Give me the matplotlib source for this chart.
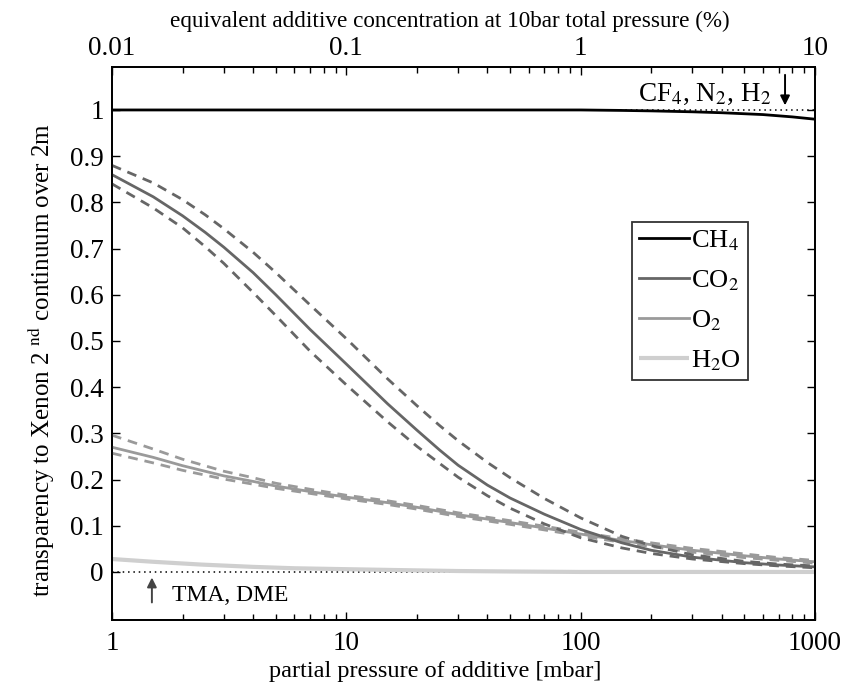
import matplotlib
matplotlib.use("Agg")
import matplotlib.pyplot as plt
from matplotlib.ticker import LogLocator, NullFormatter, FixedLocator, FixedFormatter

plt.rcParams['font.family'] = ['Liberation Serif', 'DejaVu Serif']
plt.rcParams['mathtext.fontset'] = 'stix'

# ---------------- data ----------------
ch4_x = [1, 10, 100, 150, 200, 300, 400, 600, 800, 1000]
ch4_y = [1.0, 1.0, 1.0, 0.999, 0.998, 0.996, 0.994, 0.99, 0.985, 0.98]

co2_x = [1, 1.5, 2, 2.5, 3, 4, 5, 7, 10, 15, 20, 25, 30, 40, 50, 70, 100, 150, 200, 300, 500, 700, 1000]
co2_y = [0.86, 0.812, 0.771, 0.735, 0.703, 0.648, 0.600, 0.525, 0.450, 0.364, 0.307, 0.264, 0.231,
         0.188, 0.160, 0.125, 0.092, 0.063, 0.047, 0.032, 0.020, 0.015, 0.011]
co2_hi = [0.88, 0.842, 0.806, 0.773, 0.743, 0.692, 0.648, 0.578, 0.505, 0.418, 0.36, 0.317, 0.284,
          0.237, 0.204, 0.159, 0.117, 0.077, 0.057, 0.037, 0.023, 0.017, 0.013]
co2_lo = [0.84, 0.788, 0.745, 0.704, 0.668, 0.605, 0.555, 0.478, 0.405, 0.325, 0.272, 0.235, 0.205,
          0.165, 0.138, 0.104, 0.074, 0.052, 0.040, 0.028, 0.018, 0.013, 0.009]

o2_x = [1, 1.5, 2, 3, 4, 5, 7, 10, 15, 20, 30, 50, 70, 100, 150, 200, 300, 500, 700, 1000]
o2_y = [0.27, 0.248, 0.230, 0.208, 0.196, 0.186, 0.174, 0.162, 0.150, 0.140, 0.124, 0.107,
        0.095, 0.082, 0.068, 0.059, 0.047, 0.035, 0.028, 0.022]
o2_hi = [0.296, 0.266, 0.244, 0.218, 0.204, 0.192, 0.179, 0.166, 0.154, 0.144, 0.128, 0.111,
         0.099, 0.086, 0.072, 0.063, 0.051, 0.039, 0.031, 0.025]
o2_lo = [0.257, 0.236, 0.220, 0.201, 0.190, 0.181, 0.170, 0.158, 0.146, 0.136, 0.120, 0.103,
         0.091, 0.078, 0.064, 0.055, 0.043, 0.031, 0.025, 0.019]

h2o_x = [1, 1.5, 2.4, 4, 6, 10, 17, 30, 50, 100, 1000]
h2o_y = [0.028, 0.022, 0.016, 0.011, 0.008, 0.006, 0.004, 0.002, 0.001, 0.0, 0.0]

xticks_bottom = [1, 10, 100, 1000]
xticklabels_bottom = ["1", "10", "100", "1000"]
xticks_top = [0.01, 0.1, 1, 10]
xticklabels_top = ["0.01", "0.1", "1", "10"]
yticks = [0, 0.1, 0.2, 0.3, 0.4, 0.5, 0.6, 0.7, 0.8, 0.9, 1.0]
yticklabels = ["0", "0.1", "0.2", "0.3", "0.4", "0.5", "0.6", "0.7", "0.8", "0.9", "1"]

c_ch4, c_co2, c_o2, c_h2o = "#000000", "#666666", "#9a9a9a", "#cfcfcf"
dash = (0, (3.5, 2.5))

fig = plt.figure(figsize=(8.6, 6.86), dpi=100)
ax = fig.add_axes([112/860, 1-620/686, (815-112)/860, (620-67)/686])

ax.axhline(1.0, color='black', ls=(0, (1, 2.5)), lw=1.1, zorder=1)
ax.axhline(0.0, color='black', ls=(0, (1, 2.5)), lw=1.1, zorder=1)

ax.plot(h2o_x, h2o_y, color=c_h2o, lw=3, solid_capstyle='butt', label='H$_2$O', zorder=2)
ax.plot(o2_x, o2_hi, color=c_o2, lw=2, ls=dash, zorder=3)
ax.plot(o2_x, o2_lo, color=c_o2, lw=2, ls=dash, zorder=3)
ax.plot(o2_x, o2_y, color=c_o2, lw=2, label='O$_2$', zorder=3)
ax.plot(co2_x, co2_hi, color=c_co2, lw=2, ls=dash, zorder=4)
ax.plot(co2_x, co2_lo, color=c_co2, lw=2, ls=dash, zorder=4)
ax.plot(co2_x, co2_y, color=c_co2, lw=2, label='CO$_2$', zorder=4)
ax.plot(ch4_x, ch4_y, color=c_ch4, lw=2, label='CH$_4$', zorder=5)

ax.set_xscale('log')
ax.set_xlim(1, 1000)
ax.set_ylim(-0.104, 1.093)
ax.xaxis.set_major_locator(FixedLocator(xticks_bottom))
ax.xaxis.set_major_formatter(FixedFormatter(xticklabels_bottom))
ax.xaxis.set_minor_locator(LogLocator(base=10, subs=range(2, 10)))
ax.xaxis.set_minor_formatter(NullFormatter())
ax.set_yticks(yticks)
ax.set_yticklabels(yticklabels)
ax.tick_params(axis='both', which='major', direction='in', length=6, width=1,
               labelsize=19.5, right=True, top=False)
ax.tick_params(axis='x', which='minor', direction='in', length=4, width=1, top=False)
ax.tick_params(axis='x', which='major', pad=8)
ax.tick_params(axis='y', which='major', pad=6)
ax.set_xlabel('partial pressure of additive [mbar]', fontsize=17.5)
ax.xaxis.set_label_coords((435-112)/703, -0.075, transform=ax.transAxes)
ax.set_ylabel('transparency to Xenon 2 $^{\\mathrm{nd}}$ continuum over 2m', fontsize=18)
ax.yaxis.set_label_coords(-0.078, (620-360)/553, transform=ax.transAxes)

ax2 = ax.twiny()
ax2.set_xscale('log')
ax2.set_xlim(0.01, 10)
ax2.xaxis.set_major_locator(FixedLocator(xticks_top))
ax2.xaxis.set_major_formatter(FixedFormatter(xticklabels_top))
ax2.xaxis.set_minor_locator(LogLocator(base=10, subs=range(2, 10)))
ax2.xaxis.set_minor_formatter(NullFormatter())
ax2.tick_params(axis='x', which='major', direction='in', length=6, width=1, labelsize=19.5, pad=4)
ax2.tick_params(axis='x', which='minor', direction='in', length=4, width=1)
ax2.set_xlabel('equivalent additive concentration at 10bar total pressure (%)', fontsize=16.7)
ax2.xaxis.set_label_coords((450-112)/703, 1.072, transform=ax2.transAxes)

for a in (ax, ax2):
    for s in a.spines.values():
        s.set_linewidth(1.3)

handles, labels = ax.get_legend_handles_labels()
order = [3, 2, 1, 0]
leg = ax.legend([handles[i] for i in order], [labels[i] for i in order],
                loc='upper left', bbox_to_anchor=((632-112)/703, (620-222)/553),
                fontsize=19, frameon=True, fancybox=False, edgecolor='black',
                handlelength=1.9, labelspacing=0.58, borderpad=0.25, handletextpad=0.1,
                borderaxespad=0)
leg.get_frame().set_linewidth(1.3)
leg.set_zorder(10)

ax.annotate('', xy=(745, 1.004), xytext=(745, 1.082),
            arrowprops=dict(arrowstyle='-|>', color='black', lw=1.4, mutation_scale=14))
ax.text(650, (572-101)/462, 'CF$_4$, N$_2$, H$_2$', fontsize=19.5, ha='right', va='baseline')
ax.annotate('', xy=(1.48, -0.006), xytext=(1.48, -0.072),
            arrowprops=dict(arrowstyle='-|>', color='#444444', lw=1.4, mutation_scale=14))
ax.text(1.80, -0.052, 'TMA, DME', fontsize=17, ha='left', va='center')

fig.savefig('out.png', dpi=100)
